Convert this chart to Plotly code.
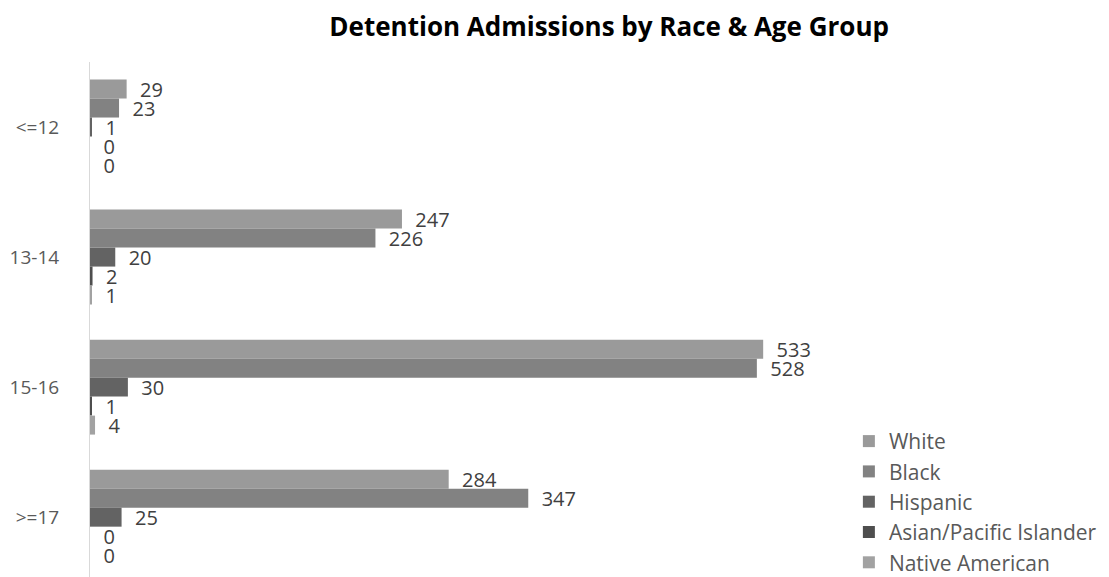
import plotly.graph_objects as go

# age groups (top to bottom) and admissions per race
age_groups = ["<=12", "13-14", "15-16", ">=17"]
white = [29, 247, 533, 284]
black = [23, 226, 528, 347]
hispanic = [1, 20, 30, 25]
asian = [0, 2, 1, 0]
native = [0, 1, 4, 0]

series = [
    ("White", white, "#9a9a9a"),
    ("Black", black, "#828282"),
    ("Hispanic", hispanic, "#636363"),
    ("Asian/Pacific Islander", asian, "#4e4e4e"),
    ("Native American", native, "#a2a2a2"),
]

font_name = "Open Sans"
txt_col = "#404040"

fig = go.Figure()
for name, vals, col in series:
    fig.add_trace(go.Bar(
        y=age_groups, x=vals, name=name, orientation="h",
        legendgroup=name,
        marker=dict(color=col, line=dict(width=0)),
        text=vals, texttemplate="  %{x}", textposition="outside",
        constraintext="none", cliponaxis=False,
        textfont=dict(family=font_name, size=20, color=txt_col),
    ))

# page body has an 8px margin, so the figure is a bit smaller than the window
fig.update_layout(
    width=1101, height=569,
    margin=dict(l=82, r=254, t=54, b=0, autoexpand=False),
    paper_bgcolor="white", plot_bgcolor="white",
    barmode="group", bargap=0.27, bargroupgap=0,
    title=dict(text="<b>Detention Admissions by Race & Age Group</b>",
               x=0.546, xanchor="center", y=0.967, yanchor="middle",
               font=dict(family=font_name, size=26, color="black")),
    xaxis=dict(range=[0, 605.7], visible=False),
    yaxis=dict(range=[3.46, -0.5], showline=True, linecolor="#d9d9d9",
               linewidth=1, showgrid=False, ticks="", ticklabelstandoff=26,
               automargin=False,
               tickfont=dict(family=font_name, size=19, color="#595959")),
    legend=dict(x=0.992, xanchor="left", y=0.303, yanchor="top",
                traceorder="normal", tracegroupgap=4, itemwidth=30,
                font=dict(family=font_name, size=21, color="#595959")),
    showlegend=True,
)

fig.write_html("out.html")
